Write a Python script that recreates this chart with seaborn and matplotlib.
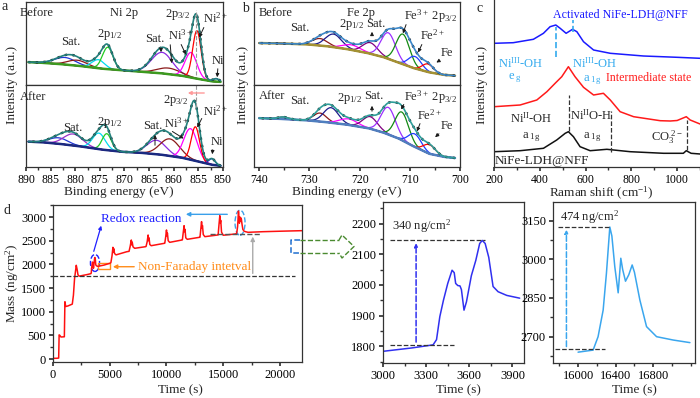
import numpy as np
import matplotlib
matplotlib.use("Agg")
import matplotlib.pyplot as plt
import seaborn as sns
from matplotlib.patches import Ellipse, Rectangle, FancyArrowPatch
from matplotlib.lines import Line2D
from matplotlib.ticker import MultipleLocator

# ---------------- data ----------------
# (a) Ni 2p XPS fitted components: centre (eV), height, FWHM (eV)
ni_colors_before = ['#1f35d6', '#8b1a1a', '#00dcef', '#22cc22', '#8a2be2', '#8b1a1a', '#ff00ff', '#ff0000', '#1f35d6']
ni_before_center = [882.1, 879.6, 875.3, 873.4, 862.4, 861.0, 856.5, 855.3, 851.4]
ni_before_height = [7.0, 5.5, 8.5, 22.0, 21.0, 6.0, 25.0, 48.0, 3.0]
ni_before_fwhm = [5.0, 4.5, 3.0, 2.5, 5.0, 5.5, 2.8, 2.0, 1.5]
ni_bg_be = [890, 886, 882, 878, 874, 870, 866, 862, 858, 855, 852, 850]
ni_before_bg = [23, 22, 20.5, 18.5, 16, 14.5, 13, 11.5, 9, 6, 3.5, 3]
ni_colors_after = ['#1f35d6', '#9b30c8', '#00dcef', '#22cc22', '#8a2be2', '#8b1a1a', '#ff00ff', '#ff0000', '#1f35d6']
ni_after_center = [883.4, 880.4, 875.2, 873.6, 863.5, 860.8, 856.6, 855.6, 852.2]
ni_after_height = [6.0, 11.5, 16.0, 16.5, 14.0, 17.0, 31.0, 34.0, 6.0]
ni_after_fwhm = [4.5, 4.5, 3.0, 2.2, 4.5, 4.7, 3.2, 2.0, 1.5]
ni_after_bg = [25.5, 24.5, 22.5, 20, 17, 15, 14, 12, 9, 5.5, 2, 1]

# (b) Fe 2p XPS fitted components
fe_colors_before = ['#8b1a1a', '#1c1c8c', '#ff00ff', '#800080', '#9b30ff', '#138a13', '#1e3cff', '#ff0000']
fe_before_center = [727.9, 725.2, 721.6, 717.9, 714.3, 711.4, 709.0, 706.4]
fe_before_height = [7.0, 13.0, 5.0, 11.0, 26.0, 30.0, 12.0, 8.0]
fe_before_fwhm = [3.6, 3.8, 4.2, 3.5, 3.4, 3.2, 3.0, 2.6]
fe_bg_be = [741, 735, 730, 726, 722, 718, 715, 712, 709, 706, 703, 700]
fe_before_bg = [42, 41.5, 40.5, 38.5, 35.5, 31.5, 27.5, 22, 16.5, 12.5, 10, 9]
fe_colors_after = ['#8b1a1a', '#8b1a1a', '#1c1c8c', '#ff00ff', '#800080', '#9b30ff', '#138a13', '#1e3cff', '#ff0000']
fe_after_center = [735.2, 727.9, 725.7, 722.2, 717.9, 714.3, 711.6, 709.0, 706.1]
fe_after_height = [2.0, 8.5, 15.0, 6.0, 12.0, 27.0, 28.0, 13.0, 9.0]
fe_after_fwhm = [2.5, 3.0, 3.5, 4.2, 3.5, 3.4, 3.2, 3.0, 2.8]
fe_after_bg = [49, 48, 46.5, 44.5, 42, 38.5, 34, 28, 20, 13, 10, 8.5]

# (c) Raman spectra (shift cm-1, intensity a.u.)
raman_act_shift = [200, 284, 372, 416, 445, 470, 489, 515, 543, 562, 591, 635, 708, 853, 1000, 1100]
raman_act_int = [123.7, 124.3, 127.7, 133.7, 140.3, 142, 138.7, 133.7, 137.7, 135.3, 125.3, 117, 113.7, 111, 109.7, 108.7]
raman_int_shift = [200, 314, 387, 431, 467, 496, 525, 554, 591, 635, 678, 708, 751, 810, 926, 970, 1000, 1040, 1057, 1100]
raman_int_int = [60.3, 62, 67, 75.3, 83.7, 90.3, 100.3, 90.3, 79.7, 72, 73.7, 67, 55.3, 50.3, 46.3, 46, 46.5, 50.3, 47, 43]
raman_ldh_shift = [200, 314, 416, 474, 511, 525, 547, 576, 620, 693, 795, 941, 1027, 1040, 1061, 1100]
raman_ldh_int = [15.3, 16.3, 18.7, 27, 33.7, 35.3, 30.3, 20.3, 16.3, 17.7, 15.3, 13.7, 13.7, 16.3, 13.7, 13]

# (d) EQCM mass vs time
mass_time = [0, 300, 500, 540, 600, 700, 1000, 1050, 1120, 1300, 1700, 1800, 1900, 2050, 2120, 2200, 2300, 2700,
             3000, 3200, 3348, 3372, 3395, 3420, 3450, 3480, 3495, 3505, 3520, 3535, 3545, 3563, 3580, 3614, 3645,
             3672, 3690, 3710, 3735, 3765, 3800, 3860, 3950, 4500, 5000,
             5100, 5200, 5280, 5320, 5360, 5420, 5550, 6500,
             6700, 6800, 6900, 6940, 6980, 7050, 7200, 8150,
             8200, 8300, 8380, 8420, 8460, 8530, 8650, 9800,
             9850, 9930, 10000, 10040, 10080, 10150, 10280, 11350,
             11400, 11480, 11550, 11590, 11630, 11700, 11830, 12900,
             12950, 13030, 13090, 13130, 13170, 13240, 13380, 14500,
             14550, 14630, 14700, 14740, 14780, 14850, 15000, 16000,
             16160, 16213, 16267, 16302, 16338, 16360, 16391, 16427, 16455, 16475, 16505, 16540, 16576, 16600,
             16658, 16729, 16836, 17013, 17191, 18500, 20000, 22000]
mass_value = [15, 15, 20, 510, 500, 465, 470, 1210, 1110, 1120, 1160, 1350, 1700, 1980, 1900, 1780, 1750, 1770,
              1784, 1795, 1805, 1822, 1897, 1950, 2005, 2048, 2040, 2005, 1998, 1997, 1985, 1918, 1945, 2030, 2080,
              2135, 2145, 2135, 2090, 1995, 1978, 1966, 1957, 1985, 2022,
              2035, 2180, 2360, 2260, 2330, 2230, 2200, 2267,
              2275, 2380, 2514, 2410, 2470, 2370, 2339, 2373,
              2378, 2480, 2620, 2500, 2560, 2420, 2394, 2444,
              2448, 2580, 2726, 2600, 2660, 2500, 2465, 2514,
              2518, 2680, 2817, 2690, 2740, 2560, 2529, 2571,
              2574, 2760, 2902, 2770, 2820, 2630, 2585, 2620,
              2622, 2850, 3028, 2880, 2930, 2680, 2615, 2640,
              2648, 2700, 2803, 2946, 3125, 3090, 2971, 2870, 3004, 2960, 2915, 2940, 2978, 2950,
              2842, 2739, 2700, 2687, 2677, 2690, 2700, 2712]
# (e) zoom on the first redox cycle
cyc1_time = [3000, 3200, 3348, 3372, 3395, 3420, 3450, 3480, 3495, 3505, 3520, 3535, 3545, 3563, 3580, 3614,
             3645, 3672, 3690, 3710, 3735, 3765, 3800, 3860, 3950]
cyc1_mass = [1784, 1795, 1805, 1822, 1897, 1950, 2005, 2048, 2040, 2005, 1998, 1997, 1985, 1918, 1945, 2030,
             2080, 2135, 2145, 2135, 2090, 1995, 1978, 1966, 1957]
# (f) zoom on the last redox cycle
cyc9_time = [16000, 16160, 16213, 16267, 16302, 16338, 16360, 16391, 16427, 16455, 16475, 16505, 16540, 16576,
             16600, 16658, 16729, 16836, 17013, 17191]
cyc9_mass = [2640, 2648, 2700, 2803, 2946, 3125, 3090, 2971, 2870, 3004, 2960, 2915, 2940, 2978,
             2950, 2842, 2739, 2700, 2687, 2677]

# ---------------- style ----------------
sns.set_theme(style="ticks")
plt.rcParams['font.family'] = ['Liberation Serif', 'DejaVu Serif']
plt.rcParams.update({
    'mathtext.fontset': 'custom', 'mathtext.rm': 'Liberation Serif',
    'mathtext.it': 'Liberation Serif:italic', 'mathtext.default': 'regular',
    'axes.edgecolor': '#333333', 'axes.linewidth': 0.9,
    'xtick.color': '#333333', 'ytick.color': '#333333',
    'xtick.labelcolor': 'black', 'ytick.labelcolor': 'black',
    'xtick.major.size': 3, 'ytick.major.size': 3, 'xtick.minor.size': 2, 'ytick.minor.size': 2,
    'xtick.major.pad': 2, 'ytick.major.pad': 2,
})

W, H = 700, 398
fig = plt.figure(figsize=(W / 100, H / 100), dpi=100)


def pax(x0, y0, x1, y1):
    return fig.add_axes([x0 / W, 1 - y1 / H, (x1 - x0) / W, (y1 - y0) / H])


def ftext(x, y, s, **kw):
    kw.setdefault('ha', 'left')
    kw.setdefault('va', 'center')
    kw.setdefault('fontsize', 9)
    fig.text(x / W, 1 - y / H, s, **kw)


def farrow(x0, y0, x1, y1, color='k', lw=0.7, ms=5, ls='-'):
    fig.add_artist(FancyArrowPatch((x0 / W, 1 - y0 / H), (x1 / W, 1 - y1 / H), transform=fig.transFigure,
                                   arrowstyle='-|>', mutation_scale=ms, color=color, lw=lw, linestyle=ls))


def fline(xs, ys, **kw):
    fig.add_artist(Line2D([x / W for x in xs], [1 - y / H for y in ys], transform=fig.transFigure, **kw))


def gauss(x, c, h, fwhm):
    s = fwhm / 2.3548
    return h * np.exp(-0.5 * ((x - c) / s) ** 2)


def draw_xps(ax, grid, bg_be, bg_int, centers, heights, fwhms, colors, bg_color, env_color):
    bg = np.interp(grid, bg_be[::-1], bg_int[::-1])
    env = bg.copy()
    for c, h, w, col in zip(centers, heights, fwhms, colors):
        comp = gauss(grid, c, h, w)
        env = env + comp
        sns.lineplot(x=grid, y=bg + comp, ax=ax, color=col, lw=0.9)
    sns.lineplot(x=grid, y=bg, ax=ax, color=bg_color, lw=1.8)
    sns.lineplot(x=grid, y=env, ax=ax, color='#1a1a1a', lw=1.7, linestyle=(0, (1, 2.2)))
    sns.lineplot(x=grid, y=env, ax=ax, color=env_color, lw=1.2)


def style_xps(ax, xlim, ylim, bottom, major, minor):
    ax.set_xlim(*xlim)
    ax.set_ylim(*ylim)
    ax.set_yticks([])
    ax.set_xlabel('')
    ax.set_ylabel('')
    ax.xaxis.set_major_locator(MultipleLocator(major))
    ax.xaxis.set_minor_locator(MultipleLocator(minor))
    if bottom:
        ax.tick_params(axis='x', which='both', labelsize=8.5)
    else:
        ax.tick_params(axis='x', which='both', bottom=False, labelbottom=False)


# ---------------- panel a ----------------
grid_a = np.linspace(889.5, 850.5, 500)
ax_a1 = pax(26, 2, 223, 85)
draw_xps(ax_a1, grid_a, ni_bg_be, ni_before_bg, ni_before_center, ni_before_height, ni_before_fwhm,
         ni_colors_before, '#3c9a1e', '#23807c')
style_xps(ax_a1, (890, 850), (0, 83), False, 5, 2.5)
ax_a1.plot([855.5, 855.5], [10, 75], color='#999999', lw=0.8, ls='--')
ax_a2 = pax(26, 85, 223, 167)
draw_xps(ax_a2, grid_a, ni_bg_be, ni_after_bg, ni_after_center, ni_after_height, ni_after_fwhm,
         ni_colors_after, '#1a2a80', '#23807c')
style_xps(ax_a2, (890, 850), (0, 82), True, 5, 2.5)
ax_a2.plot([855.5, 855.5], [60, 82], color='#999999', lw=0.8, ls='--')

ftext(2, 7, 'a', fontsize=10)
ftext(20, 13, 'Before')
ftext(110, 13, 'Ni 2p')
ftext(165, 15, '2p$_{3/2}$')
ftext(203, 18, 'Ni$^{2+}$')
ftext(61, 42, 'Sat.')
ftext(97, 34, '2p$_{1/2}$')
ftext(145, 39, 'Sat.')
ftext(168, 35, 'Ni$^{3+}$')
ftext(212, 61, 'Ni')
farrow(205, 25, 198, 40)
farrow(180, 42, 187, 57)
farrow(170, 42, 172, 66)
farrow(161, 46, 161, 55)
farrow(218, 66, 217, 80)
ftext(20, 97, 'After')
ftext(163, 101, '2p$_{3/2}$')
ftext(203, 111, 'Ni$^{2+}$')
ftext(63, 128, 'Sat.')
ftext(97, 123, '2p$_{1/2}$')
ftext(143, 126, 'Sat.')
ftext(164, 123, 'Ni$^{3+}$')
ftext(211, 142, 'Ni')
farrow(203, 116, 196, 130)
farrow(170, 130, 186, 140)
farrow(155, 148, 155, 132)
farrow(213, 147, 212, 157)
farrow(207, 93, 185, 93, color='#ff9a9a', lw=1.0)
fig.text(12 / W, 1 - 85 / H, 'Intensity (a.u.)', rotation=90, ha='center', va='center', fontsize=9.5)
fig.text(119 / W, 1 - 192 / H, 'Binding energy (eV)', ha='center', va='center', fontsize=9.5)

# ---------------- panel b ----------------
grid_b = np.linspace(740, 701, 500)
ax_b1 = pax(254, 2, 460, 85)
draw_xps(ax_b1, grid_b, fe_bg_be, fe_before_bg, fe_before_center, fe_before_height, fe_before_fwhm,
         fe_colors_before, '#a39232', '#3a86c8')
style_xps(ax_b1, (741.05, 700), (0, 83), False, 10, 5)
ax_b2 = pax(254, 85, 460, 167)
draw_xps(ax_b2, grid_b, fe_bg_be, fe_after_bg, fe_after_center, fe_after_height, fe_after_fwhm,
         fe_colors_after, '#4f7fbf', '#2f9e9a')
style_xps(ax_b2, (741.05, 700), (0, 82), True, 10, 5)

ftext(242, 8, 'b', fontsize=10)
ftext(259, 13, 'Before')
ftext(347, 13, 'Fe 2p')
ftext(290, 28, 'Sat.')
ftext(339, 25, '2p$_{1/2}$')
ftext(366, 24, 'Sat.')
ftext(404, 16, 'Fe$^{3+}$ 2p$_{3/2}$')
ftext(420, 35, 'Fe$^{2+}$')
ftext(441, 53, 'Fe')
farrow(407, 22, 402, 36)
farrow(423, 42, 417, 55)
farrow(442, 59, 434, 64)
farrow(372, 38, 372, 29)
ftext(259, 96, 'After')
ftext(290, 101, 'Sat.')
ftext(337, 98, '2p$_{1/2}$')
ftext(364, 96, 'Sat.')
ftext(404, 97, 'Fe$^{3+}$ 2p$_{3/2}$')
ftext(417, 115, 'Fe$^{2+}$')
ftext(441, 126, 'Fe')
farrow(405, 102, 400, 112)
farrow(421, 121, 416, 134)
farrow(441, 132, 433, 139)
farrow(372, 114, 372, 103)
fig.text(243 / W, 1 - 85 / H, 'Intensity (a.u.)', rotation=90, ha='center', va='center', fontsize=9.5)
fig.text(347 / W, 1 - 192 / H, 'Binding energy (eV)', ha='center', va='center', fontsize=9.5)

# ---------------- panel c ----------------
ax_c = pax(494, -3, 703, 167)
sns.lineplot(x=raman_act_shift, y=raman_act_int, ax=ax_c, color='#1a1aff', lw=1.1)
sns.lineplot(x=raman_int_shift, y=raman_int_int, ax=ax_c, color='#ff1a1a', lw=1.1)
sns.lineplot(x=raman_ldh_shift, y=raman_ldh_int, ax=ax_c, color='#111111', lw=1.1)
ax_c.set_xlim(200, 1113)
ax_c.set_ylim(0, 170)
ax_c.set_yticks([])
ax_c.set_xlabel('')
ax_c.set_ylabel('')
ax_c.set_xticks([200, 400, 600, 800, 1000])
ax_c.xaxis.set_minor_locator(MultipleLocator(100))
ax_c.tick_params(axis='x', which='both', labelsize=8.5)
ax_c.plot([470, 470], [110, 140], color='#33aaee', lw=1.2, ls='--')
ax_c.plot([543, 543], [135, 147], color='#33aaee', lw=1.2, ls='--')
ax_c.plot([529, 529], [36, 72], color='#333333', lw=0.9, ls='--')
ax_c.plot([712, 712], [15, 56], color='#333333', lw=0.9, ls='--')
ax_c.plot([1042, 1042], [17, 47], color='#333333', lw=0.9, ls='--')
ftext(477, 8, 'c', fontsize=10)
ftext(553, 15, 'Activated NiFe-LDH@NFF', color='#1a1aff', fontsize=8.6)
ftext(498, 63, 'Ni$^{III}$-OH', color='#33aaee')
ftext(508, 78, 'e$_{\\ g}$', color='#33aaee')
ftext(572, 63, 'Ni$^{III}$-OH', color='#33aaee')
ftext(583, 80, 'a$_{\\ 1g}$', color='#33aaee')
ftext(606, 78, 'Intermediate state', color='#ff1a1a', fontsize=8.6)
ftext(510, 118, 'Ni$^{II}$-OH')
ftext(522, 137, 'a$_{\\ 1g}$')
ftext(570, 115, 'Ni$^{II}$O-H')
ftext(583, 137, 'a$_{\\ 1g}$')
ftext(651, 137, 'CO$_3^{\\ 2-}$')
ftext(495, 161, 'NiFe-LDH@NFF', fontsize=9.5)
fig.text(482 / W, 1 - 85 / H, 'Intensity (a.u.)', rotation=90, ha='center', va='center', fontsize=9.5)
fig.text(601 / W, 1 - 193 / H, 'Raman shift (cm$^{-1}$)', ha='center', va='center', fontsize=9.5)

# ---------------- panel d ----------------
ax_d = pax(53, 205, 302, 362)
sns.lineplot(x=mass_time, y=mass_value, ax=ax_d, color='#ff1010', lw=1.1)
ax_d.set_xlim(0, 21940)
ax_d.set_ylim(-63, 3254)
ax_d.set_xlabel('')
ax_d.set_ylabel('')
ax_d.xaxis.set_major_locator(MultipleLocator(5000))
ax_d.xaxis.set_minor_locator(MultipleLocator(2500))
ax_d.yaxis.set_major_locator(MultipleLocator(500))
ax_d.yaxis.set_minor_locator(MultipleLocator(250))
ax_d.tick_params(which='both', labelsize=9)
ax_d.plot([0, 21300], [1750, 1750], color='#333333', lw=0.9, ls='--')
ax_d.plot([13830, 18240], [2640, 2640], color='#555555', lw=1.0, ls='--')
ax_d.annotate('', xy=(17600, 2645), xytext=(17600, 1750),
              arrowprops=dict(arrowstyle='-|>', color='#aaaaaa', lw=1.0, mutation_scale=6))
ax_d.add_patch(Ellipse((3700, 2030), 800, 360, fill=False, ec='#2020ff', lw=1.0, ls='--'))
ax_d.add_patch(Ellipse((16480, 2880), 880, 530, fill=False, ec='#3aa0ea', lw=1.0, ls='--'))
ax_d.add_patch(Rectangle((3950, 1895), 1070, 140, fill=False, ec='#ff8c1a', lw=1.0))
ax_d.annotate('', xy=(11460, 3057), xytext=(15600, 3057),
              arrowprops=dict(arrowstyle='-|>', color='#3aa0ea', lw=1.0, mutation_scale=6))
ax_d.annotate('', xy=(5030, 1950), xytext=(7400, 1950),
              arrowprops=dict(arrowstyle='-|>', color='#ff8c1a', lw=1.0, mutation_scale=6))
ax_d.text(7450, 1950, 'Non-Faraday intetval', color='#ff8c1a', fontsize=9.5, va='center', ha='left')
ftext(101, 219, 'Redox reaction', color='#2020ff', fontsize=9.5)
farrow(93, 254, 102, 223, color='#2020ff', lw=0.9)
ftext(3, 211, 'd', fontsize=10)
fig.text(12 / W, 1 - 283 / H, 'Mass (ng/cm$^2$)', rotation=90, ha='center', va='center', fontsize=9.5)
fig.text(180 / W, 1 - 390 / H, 'Time (s)', ha='center', va='center', fontsize=9.5)

# connector between d and the zoom panels
fline([300, 291, 291, 300], [240, 240, 253, 253], color='#1f6fd0', lw=1.1, ls='--')
fline([300, 339], [240, 240], color='#4a8a30', lw=1.0, ls='--')
fline([300, 339], [253, 253], color='#4a8a30', lw=1.0, ls='--')
fline([339, 342, 354, 342, 339], [240, 235, 246.5, 258, 253], color='#4a8a30', lw=1.0, ls='--')

# ---------------- panel e ----------------
ax_e = pax(383, 202, 524, 363)
sns.lineplot(x=cyc1_time, y=cyc1_mass, ax=ax_e, color='#3030f0', lw=1.1)
ax_e.set_xlim(3000, 3980)
ax_e.set_ylim(1746, 2270)
ax_e.set_xlabel('')
ax_e.set_ylabel('')
ax_e.set_xticks([3000, 3300, 3600, 3900])
ax_e.xaxis.set_minor_locator(MultipleLocator(150))
ax_e.yaxis.set_major_locator(MultipleLocator(100))
ax_e.yaxis.set_minor_locator(MultipleLocator(50))
ax_e.tick_params(which='both', labelsize=9)
ax_e.plot([3050, 3710], [2145, 2145], color='#333333', lw=0.9, ls='--')
ax_e.plot([3050, 3490], [1805, 1805], color='#333333', lw=0.9, ls='--')
ax_e.annotate('', xy=(3230, 2145), xytext=(3230, 1805),
              arrowprops=dict(arrowstyle='-|>', color='#3030f0', lw=1.1, ls='--', mutation_scale=5))
ax_e.text(3060, 2191, '340 ng/cm$^2$', fontsize=9, va='center', ha='left')
fig.text(458 / W, 1 - 390 / H, 'Time (s)', ha='center', va='center', fontsize=9.5)

# ---------------- panel f ----------------
ax_f = pax(553, 202, 695, 363)
sns.lineplot(x=cyc9_time, y=cyc9_mass, ax=ax_f, color='#3aa6ee', lw=1.1)
ax_f.set_xlim(15733, 17245)
ax_f.set_ylim(2598, 3222)
ax_f.set_xlabel('')
ax_f.set_ylabel('')
ax_f.set_xticks([16000, 16400, 16800])
ax_f.xaxis.set_minor_locator(MultipleLocator(200))
ax_f.set_yticks([2700, 2850, 3000, 3150])
ax_f.yaxis.set_minor_locator(MultipleLocator(75))
ax_f.tick_params(which='both', labelsize=9)
ax_f.plot([15787, 16340], [3125, 3125], color='#333333', lw=0.9, ls='--')
ax_f.plot([15750, 16284], [2651, 2651], color='#333333', lw=0.9, ls='--')
ax_f.annotate('', xy=(15876, 3125), xytext=(15876, 2651),
              arrowprops=dict(arrowstyle='-|>', color='#3aa6ee', lw=1.1, ls='--', mutation_scale=5))
ax_f.text(15805, 3165, '474 ng/cm$^2$', fontsize=9, va='center', ha='left')
fig.text(634 / W, 1 - 390 / H, 'Time (s)', ha='center', va='center', fontsize=9.5)

fig.savefig('out.png', dpi=100)
